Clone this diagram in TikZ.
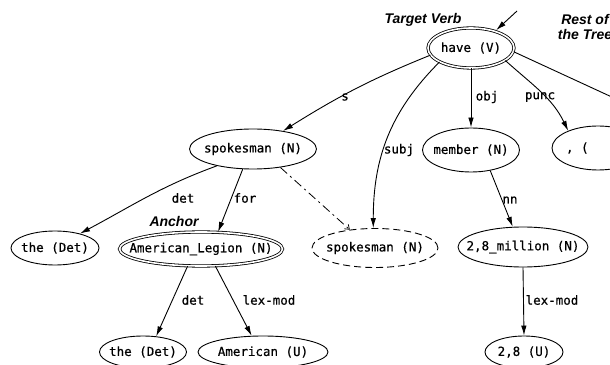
\documentclass[tikz,border=0pt]{standalone}
\usepackage{fontspec}
\newfontfamily\tokfont[FakeBold=0.6]{DejaVu Sans Mono}
\newfontfamily\notefont{Liberation Sans}
\usetikzlibrary{arrows.meta,shapes.geometric}
% zero-width box: the ellipse size comes only from minimum width/height
\newcommand{\tok}[1]{\makebox[0pt]{#1}}

\begin{document}
\begin{tikzpicture}[x=1pt,y=1pt,
  word/.style 2 args={ellipse, draw, line width=0.9pt, inner sep=0pt,
    minimum width=#1pt, minimum height=#2pt,
    font=\tokfont\fontsize{12.5}{14}\selectfont},
  focus/.style={double, double distance=1.6pt, line width=0.8pt},
  guess/.style={dash pattern=on 7pt off 4pt},
  dep/.style={line width=0.9pt, -{Latex[length=10pt,width=5.5pt]}},
  weak/.style={line width=0.8pt, dash pattern=on 9pt off 4pt on 2pt off 4pt,
    -{Straight Barb[length=4pt,width=6pt]}},
  rel/.style={font=\tokfont\fontsize{12.5}{14}\selectfont, inner sep=1pt},
  note/.style={font=\notefont\bfseries\itshape\fontsize{14}{15}\selectfont, inner sep=0pt}
]
\clip (0,0) rectangle (610,364);

% dependency tree nodes
\node[word={86}{40}, focus] (have) at (471,316) {\tok{have (V)}};
\node[word={127}{40}] (spk)  at (253,215) {\tok{spokesman (N)}};
\node[word={97}{44}]  (mem)  at (471,214) {\tok{member (N)}};
\node[word={92}{44}]  (comma) at (598,216) {\makebox[0pt][l]{\hspace{-32pt}, (}};
\node[word={88}{34}]  (detA) at (55,116) {\tok{the (Det)}};
\node[word={163}{34}, focus] (anc) at (201,115) {\tok{American\_Legion (N)}};
\node[word={126}{39}, guess] (spk2) at (375,116) {\tok{spokesman (N)}};
\node[word={130}{40}] (mil)  at (523,117) {\tok{2,8\_million (N)}};
\node[word={87}{32}]  (detB) at (143,12) {\tok{the (Det)}};
\node[word={130}{32}] (amU)  at (263,12) {\tok{American (U)}};
\node[word={78}{32}]  (u28)  at (524,12) {\tok{2,8 (U)}};

% annotations
\node[note] (tv) at (423,344) {Target Verb};
\node[note, align=center] (rot) at (585,337) {Rest of\\the Tree};
\node[note] (anclab) at (174,143) {Anchor};
\coordinate (rootin) at (517,353);
\coordinate (rest) at (640,254);

% edges from the verb
\draw[dep] (have.190) to[out=202, in=32] (spk.31);
\draw[dep] (have.204) to[out=225, in=90] (spk2.95);
\draw[dep] (have.south) -- (mem.north);
\draw[dep] (have.-20) to[out=-42, in=116] (comma.150);
\draw[line width=0.9pt] (have.-5) -- (rest);
\draw[dep, shorten >=1.4pt] (rootin) -- (have.35);

% lower edges
\draw[dep] (spk.205) to[out=200, in=28] (detA.30);
\draw[dep] (spk.243) -- (anc.45);
\draw[weak] (spk.-34) -- (spk2.144);
\draw[dep] (mem.-47) -- (mil.117);
\draw[dep] (mil.south) -- (u28.north);
\draw[dep] (anc.232) -- (detB.50);
\draw[dep] (anc.-50) -- (amU.125);

% edge labels
\node[rel] (ls) at (345,267) {s};
\node[rel] (lobj) at (487,267) {obj};
\node[rel] (lpunc) at (540,267) {punc};
\node[rel] (lsubj) at (399,214) {subj};
\node[rel] (ldet) at (183,166) {det};
\node[rel] (lfor) at (245,166) {for};
\node[rel] (lnn) at (510,164) {nn};
\node[rel] (llex) at (552,64) {lex-mod};
\node[rel] (ldet2) at (193,64) {det};
\node[rel] (llex2) at (269,64) {lex-mod};
\end{tikzpicture}
\end{document}
